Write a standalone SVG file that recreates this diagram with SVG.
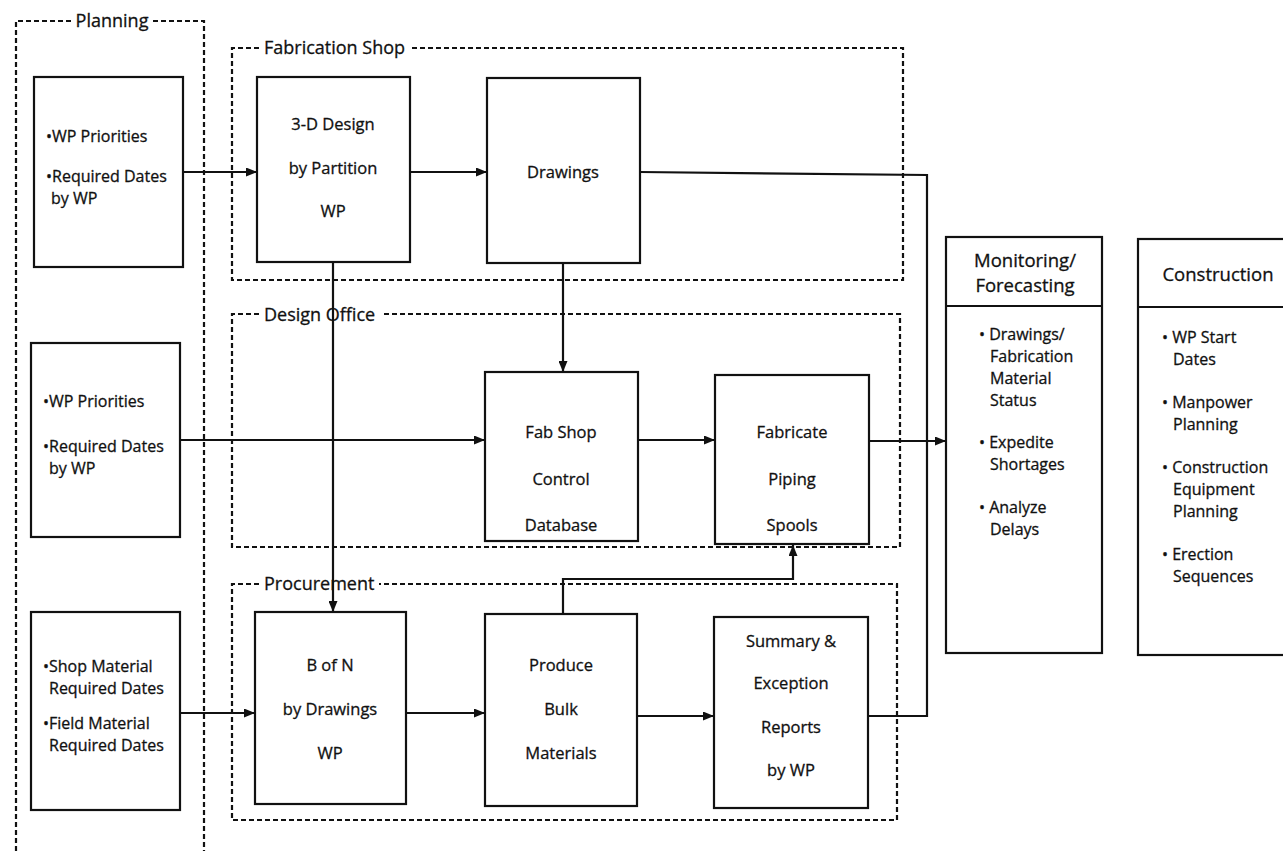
<svg xmlns="http://www.w3.org/2000/svg" width="1283" height="851" viewBox="0 0 1283 851">
<style>
.grp{fill:none;stroke:#111;stroke-width:2.2;stroke-dasharray:5 3}
.box{fill:#fff;stroke:#111;stroke-width:2.2}
.c{fill:none;stroke:#111;stroke-width:2.2}
text{font-family:"Open Sans","Liberation Sans",sans-serif;fill:#111;stroke:#111;stroke-width:0.3}
.t{font-size:16.5px;text-anchor:middle}
.b{font-size:16px}
.lbl{font-size:18px}
.h{font-size:18.5px;text-anchor:middle}
</style>
<defs>
<marker id="ah" markerWidth="11" markerHeight="9" refX="11" refY="4.5" orient="auto" markerUnits="userSpaceOnUse">
<path d="M0,0 L11,4.5 L0,9 Z" fill="#111"/>
</marker>
</defs>
<rect width="1283" height="851" fill="#fff"/>

<g id="groups">
<path class="grp" d="M71,21 H16 V851"/>
<path class="grp" d="M153,21 H204 V851"/>
<text class="lbl" x="112" y="27" text-anchor="middle">Planning</text>
<path class="grp" d="M259,48 H232 V280 H903 V48 H411"/>
<text class="lbl" x="264" y="54">Fabrication Shop</text>
<path class="grp" d="M259,314 H232 V547 H900 V314 H384"/>
<text class="lbl" x="264" y="321">Design Office</text>
<path class="grp" d="M259,584 H232 V820 H897 V584 H379"/>
<text class="lbl" x="264" y="590">Procurement</text>
</g>

<g id="connectors">
<line class="c" x1="183" y1="172" x2="257" y2="172" marker-end="url(#ah)"/>
<line class="c" x1="410" y1="172" x2="487" y2="172" marker-end="url(#ah)"/>
<polyline class="c" points="640,172 927,175 927,716 868,716"/>
<line class="c" x1="333" y1="262" x2="333" y2="612" marker-end="url(#ah)"/>
<line class="c" x1="563" y1="263" x2="563" y2="372" marker-end="url(#ah)"/>
<line class="c" x1="180" y1="440" x2="485" y2="440" marker-end="url(#ah)"/>
<line class="c" x1="638" y1="440" x2="715" y2="440" marker-end="url(#ah)"/>
<line class="c" x1="869" y1="441" x2="946" y2="441" marker-end="url(#ah)"/>
<line class="c" x1="180" y1="713" x2="255" y2="713" marker-end="url(#ah)"/>
<line class="c" x1="406" y1="713" x2="485" y2="713" marker-end="url(#ah)"/>
<line class="c" x1="637" y1="716" x2="714" y2="716" marker-end="url(#ah)"/>
<polyline class="c" points="563,614 563,579 793,579 793,545" marker-end="url(#ah)"/>
</g>

<g id="plan1">
<rect class="box" x="34" y="77" width="149" height="190"/>
<text class="b" x="46" y="142">•WP Priorities</text>
<text class="b" x="46" y="182">•Required Dates</text>
<text class="b" x="51" y="204">by WP</text>
</g>
<g id="plan2">
<rect class="box" x="31" y="343" width="149" height="194"/>
<text class="b" x="43" y="407">•WP Priorities</text>
<text class="b" x="43" y="452">•Required Dates</text>
<text class="b" x="49" y="474">by WP</text>
</g>
<g id="plan3">
<rect class="box" x="31" y="612" width="149" height="198"/>
<text class="b" x="43" y="672">•Shop Material</text>
<text class="b" x="49" y="694">Required Dates</text>
<text class="b" x="43" y="729">•Field Material</text>
<text class="b" x="49" y="751">Required Dates</text>
</g>

<g id="design3d">
<rect class="box" x="257" y="77" width="153" height="185"/>
<text class="t" x="333" y="130">3-D Design</text>
<text class="t" x="333" y="174">by Partition</text>
<text class="t" x="333" y="217">WP</text>
</g>
<g id="drawings">
<rect class="box" x="487" y="78" width="153" height="185"/>
<text class="t" x="563" y="178">Drawings</text>
</g>
<g id="fabshop">
<rect class="box" x="485" y="372" width="153" height="169"/>
<text class="t" x="561" y="438">Fab Shop</text>
<text class="t" x="561" y="485">Control</text>
<text class="t" x="561" y="531">Database</text>
</g>
<g id="fabricate">
<rect class="box" x="715" y="375" width="154" height="169"/>
<text class="t" x="792" y="438">Fabricate</text>
<text class="t" x="792" y="485">Piping</text>
<text class="t" x="792" y="531">Spools</text>
</g>
<g id="bofn">
<rect class="box" x="255" y="612" width="151" height="192"/>
<text class="t" x="330" y="671">B of N</text>
<text class="t" x="330" y="715">by Drawings</text>
<text class="t" x="330" y="759">WP</text>
</g>
<g id="produce">
<rect class="box" x="485" y="614" width="152" height="192"/>
<text class="t" x="561" y="671">Produce</text>
<text class="t" x="561" y="715">Bulk</text>
<text class="t" x="561" y="759">Materials</text>
</g>
<g id="summary">
<rect class="box" x="714" y="617" width="154" height="191"/>
<text class="t" x="791" y="647">Summary &amp;</text>
<text class="t" x="791" y="689">Exception</text>
<text class="t" x="791" y="733">Reports</text>
<text class="t" x="791" y="776">by WP</text>
</g>

<g id="monitoring">
<rect class="box" x="946" y="237" width="156" height="416"/>
<line class="c" x1="946" y1="306" x2="1102" y2="306"/>
<text class="h" x="1025" y="267">Monitoring/</text>
<text class="h" x="1025" y="292">Forecasting</text>
<text class="b" x="979" y="340">• Drawings/</text>
<text class="b" x="990" y="362">Fabrication</text>
<text class="b" x="990" y="384">Material</text>
<text class="b" x="990" y="406">Status</text>
<text class="b" x="979" y="448">• Expedite</text>
<text class="b" x="990" y="470">Shortages</text>
<text class="b" x="979" y="513">• Analyze</text>
<text class="b" x="990" y="535">Delays</text>
</g>
<g id="construction">
<rect class="box" x="1138" y="239" width="150" height="416"/>
<line class="c" x1="1138" y1="307" x2="1283" y2="307"/>
<text class="h" x="1218" y="281">Construction</text>
<text class="b" x="1162" y="343">• WP Start</text>
<text class="b" x="1173" y="365">Dates</text>
<text class="b" x="1162" y="408">• Manpower</text>
<text class="b" x="1173" y="430">Planning</text>
<text class="b" x="1162" y="473">• Construction</text>
<text class="b" x="1173" y="495">Equipment</text>
<text class="b" x="1173" y="517">Planning</text>
<text class="b" x="1162" y="560">• Erection</text>
<text class="b" x="1173" y="582">Sequences</text>
</g>
</svg>
